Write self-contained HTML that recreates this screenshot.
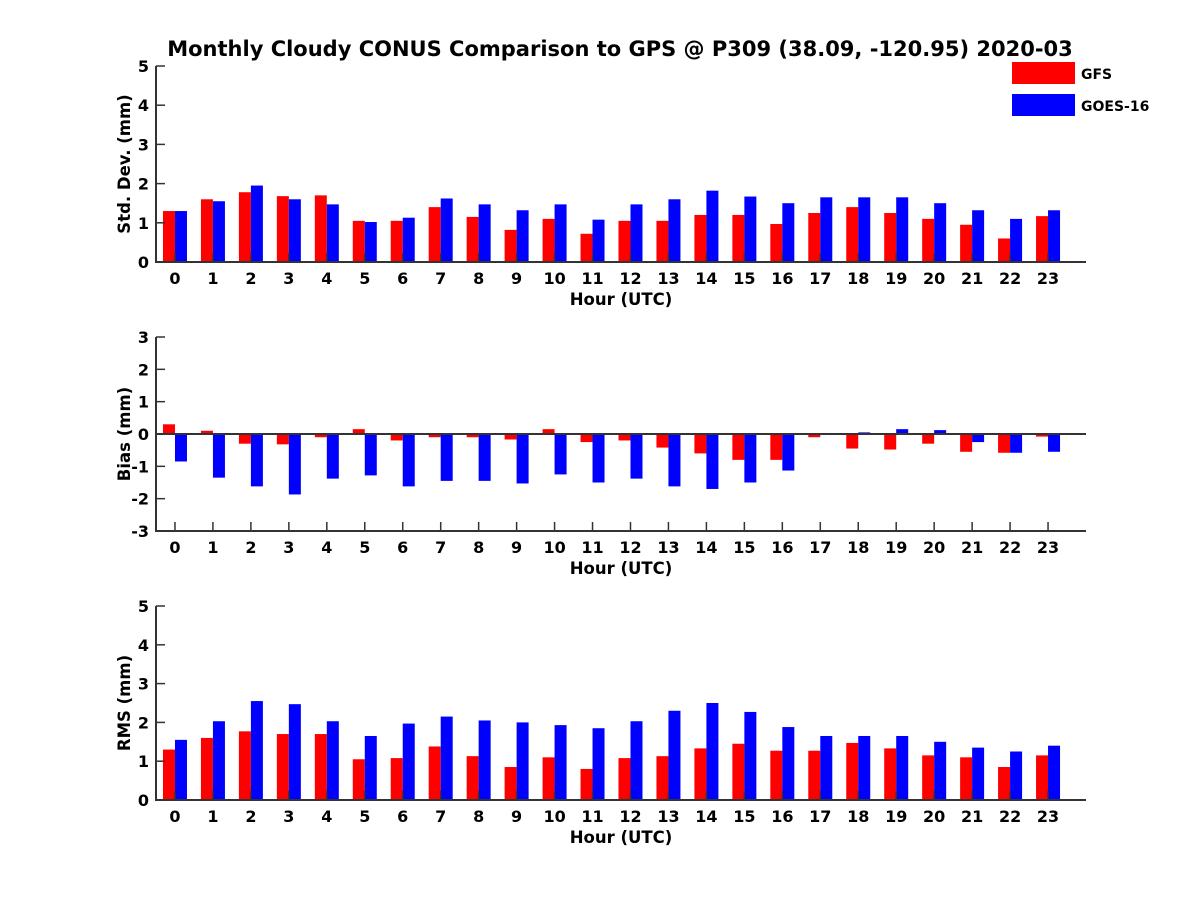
<!DOCTYPE html>
<html><head><meta charset="utf-8"><style>
body{margin:0;background:#fff}
svg text{font-family:"DejaVu Sans","Liberation Sans",sans-serif;font-weight:bold;fill:#000}
</style></head><body>
<svg id="c" width="1200" height="900" xmlns="http://www.w3.org/2000/svg">
<rect width="1200" height="900" fill="#fff"/>
<text x="620" y="56" font-size="21" text-anchor="middle">Monthly Cloudy CONUS Comparison to GPS @ P309 (38.09, -120.95) 2020-03</text>
<g>
<rect x="1012" y="62" width="63" height="22" fill="#ff0000"/>
<text x="1081" y="79" font-size="14">GFS</text>
<rect x="1012" y="94" width="63" height="22" fill="#0000ff"/>
<text x="1081" y="111" font-size="14">GOES-16</text>
</g>
</svg>
<script>
const hours=[0,1,2,3,4,5,6,7,8,9,10,11,12,13,14,15,16,17,18,19,20,21,22,23];
const stdGfs=[1.3,1.6,1.78,1.68,1.7,1.05,1.05,1.4,1.15,0.82,1.1,0.72,1.05,1.05,1.2,1.2,0.97,1.25,1.4,1.25,1.1,0.95,0.6,1.17];
const stdGoes=[1.3,1.55,1.95,1.6,1.47,1.02,1.13,1.62,1.47,1.32,1.47,1.08,1.47,1.6,1.82,1.67,1.5,1.65,1.65,1.65,1.5,1.32,1.1,1.32];
const biasGfs=[0.3,0.1,-0.3,-0.32,-0.1,0.15,-0.2,-0.1,-0.1,-0.17,0.15,-0.25,-0.2,-0.42,-0.6,-0.8,-0.8,-0.1,-0.45,-0.48,-0.3,-0.55,-0.58,-0.08];
const biasGoes=[-0.85,-1.35,-1.62,-1.87,-1.38,-1.28,-1.62,-1.45,-1.45,-1.53,-1.25,-1.5,-1.38,-1.62,-1.7,-1.5,-1.13,0,0.05,0.15,0.12,-0.25,-0.58,-0.55];
const rmsGfs=[1.3,1.6,1.77,1.7,1.7,1.05,1.08,1.38,1.13,0.85,1.1,0.8,1.08,1.13,1.33,1.45,1.27,1.27,1.47,1.33,1.15,1.1,0.85,1.15];
const rmsGoes=[1.55,2.03,2.55,2.47,2.03,1.65,1.97,2.15,2.05,2.0,1.93,1.85,2.03,2.3,2.5,2.27,1.88,1.65,1.65,1.65,1.5,1.35,1.25,1.4];
const stdTicks=[0,1,2,3,4,5];
const biasTicks=[-3,-2,-1,0,1,2,3];
const rmsTicks=[0,1,2,3,4,5];
const NS="http://www.w3.org/2000/svg";
const svg=document.getElementById('c');
function mk(t,a,p){const e=document.createElementNS(NS,t);for(const k in a)e.setAttribute(k,a[k]);(p||svg).appendChild(e);return e;}
function panel(key,top,bottom,ymin,ymax,ticks,ylab,gfs,goes,zeroLine){
  const g=mk('g',{});
  
  
  const x0=156,x1=1086;
  const xs=v=>x0+(v+0.5)/24.5*(x1-x0);
  const ys=v=>bottom-(v-ymin)/(ymax-ymin)*(bottom-top);
  const bw=12;
  hours.forEach((h,i)=>{
    const b0=zeroLine?ys(0):bottom;
    let y=ys(gfs[i]);
    const r=mk('rect',{x:xs(h)-bw,y:Math.min(y,b0),width:bw,height:Math.abs(b0-y),fill:'#ff0000'},g);
    
    
    y=ys(goes[i]);
    const b=mk('rect',{x:xs(h),y:Math.min(y,b0),width:bw,height:Math.abs(b0-y),fill:'#0000ff'},g);
    
    
  });
  if(zeroLine){const z=mk('line',{x1:x0,x2:x1,y1:ys(0),y2:ys(0),stroke:'#333','stroke-width':2},g);
    }
  const ax=mk('path',{d:`M${x0},${top}V${bottom}H${x1}`,stroke:'#333','stroke-width':2,fill:'none'},g);
  
  
  ticks.forEach(t=>{
    mk('line',{x1:x0,x2:x0+9,y1:ys(t),y2:ys(t),stroke:'#333','stroke-width':1.5},g);
    const tx=mk('text',{x:x0-7,y:ys(t)+6,'font-size':16,'text-anchor':'end'},g);
    tx.textContent=t;
    
    
  });
  hours.forEach(h=>{
    mk('line',{x1:xs(h),x2:xs(h),y1:bottom,y2:bottom-9,stroke:'#333','stroke-width':1.5},g);
    const tx=mk('text',{x:xs(h),y:bottom+22,'font-size':16,'text-anchor':'middle'},g);
    tx.textContent=h;
    
    
  });
  const xl=mk('text',{x:621,y:bottom+43,'font-size':16.5,'text-anchor':'middle'},g);
  xl.textContent='Hour (UTC)';
  
  
  const cy=(top+bottom)/2;
  const yl=mk('text',{x:0,y:0,'font-size':16.5,'text-anchor':'middle',transform:`translate(130,${cy}) rotate(-90)`},g);
  yl.textContent=ylab;
  
  
}
panel('std',66,262,0,5,stdTicks,'Std. Dev. (mm)',stdGfs,stdGoes,false);
panel('bias',337,531,-3,3,biasTicks,'Bias (mm)',biasGfs,biasGoes,true);
panel('rms',606,800,0,5,rmsTicks,'RMS (mm)',rmsGfs,rmsGoes,false);
</script>
</body></html>
